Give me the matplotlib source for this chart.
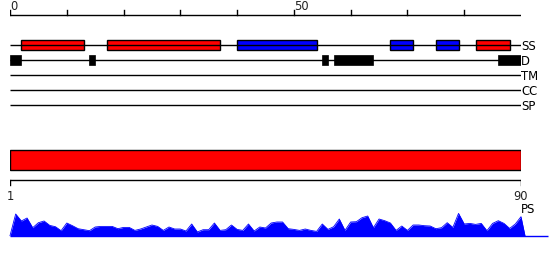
import matplotlib
matplotlib.use("Agg")
import matplotlib.pyplot as plt

# ---- data ----
seq_len = 90
ruler_ticks = [0, 10, 20, 30, 40, 50, 60, 70, 80]
ruler_labels = {0: "0", 50: "50"}

ss_starts = [2, 17, 40, 67, 75, 82]
ss_ends = [13, 37, 54, 71, 79, 88]
ss_types = ["H", "H", "E", "E", "E", "H"]

d_starts = [0, 14, 55, 57, 86]
d_ends = [2, 15, 56, 64, 90]

track_names = ["SS", "D", "TM", "CC", "SP"]

domain_start = 0
domain_end = 90
domain_labels = ["1", "90"]

ps_values = [21.7, 14.7, 17.7, 8, 13, 14.7, 10.3, 9, 5, 12.7,
             10, 7, 6, 5, 8.7, 9.3, 9.3, 9.3, 7, 8.3,
             8.3, 5.3, 6.7, 8.7, 10.7, 9.3, 5.3, 8.7, 6.7, 6.7,
             4.7, 11.7, 3.7, 6, 6, 12.7, 5.3, 6, 10.7, 6.3,
             5.3, 11.7, 4.7, 8.7, 7.7, 12.7, 13.7, 13.7, 7, 6.3,
             5.3, 6.7, 5.3, 4.3, 11.7, 6.3, 9, 16.7, 5.3, 13.7,
             14, 18, 19.7, 8, 16.7, 15, 12.7, 5.3, 9.7, 5.3,
             10.7, 10.7, 10, 9.7, 7, 8, 13, 8.3, 22.3, 11.7,
             12.3, 11.3, 12.3, 5, 12.3, 15, 12.3, 7.3, 11.7, 19]

# ---- layout ----
W, H = 550, 260
fig = plt.figure(figsize=(W / 100, H / 100), dpi=100)
x0, x1 = 10, 521
left = x0 / W
width = (x1 - x0) / W

ss_color = {"H": "#ff0000", "E": "#0000ff"}
lw = 1.0
label_font = dict(family=["Liberation Sans Narrow", "DejaVu Sans"], fontsize=8.4, color="#000000")
num_font = dict(family=["DejaVu Sans"], fontsize=8.3, color="#222222")

# main axes: y in pixel rows (0..200), inverted
ax = fig.add_axes([left, (H - 200) / H, width, 200 / H])
ax.set_xlim(0, seq_len)
ax.set_ylim(200, 0)
ax.axis("off")

# top ruler
ruler_y = 15
ax.plot([0, seq_len], [ruler_y, ruler_y], color="black", lw=lw, solid_capstyle="butt")
for t in ruler_ticks:
    ax.plot([t, t], [ruler_y - 5, ruler_y], color="black", lw=lw)
    if t in ruler_labels:
        ax.text(t, ruler_y - 5.5, ruler_labels[t], ha="left", va="baseline", **num_font)

# tracks
track_y = [45, 60, 75, 90, 105]
for name, y in zip(track_names, track_y):
    ax.plot([0, seq_len], [y, y], color="black", lw=lw, solid_capstyle="butt")
    ax.text(seq_len + 0.05, y + 5, name, ha="left", va="baseline", **label_font)

# SS boxes
ss_y = track_y[0]
for s, e, t in zip(ss_starts, ss_ends, ss_types):
    ax.bar(s, 10, width=e - s, bottom=ss_y - 5, align="edge",
           color=ss_color[t], edgecolor="black", linewidth=lw)

# disorder boxes
d_y = track_y[1]
for s, e in zip(d_starts, d_ends):
    ax.bar(s, 10.5, width=e - s, bottom=d_y - 5.2, align="edge",
           color="black", edgecolor="black", linewidth=lw * 0.5)

# domain bar
ax.bar(domain_start, 20, width=domain_end - domain_start, bottom=150, align="edge",
       color="#ff0000", edgecolor="black", linewidth=lw)

# second ruler
r2 = 180
ax.plot([domain_start, domain_end], [r2, r2], color="black", lw=lw, solid_capstyle="butt")
for pos, lab in zip([domain_start, domain_end], domain_labels):
    ax.plot([pos, pos], [r2, r2 + 5], color="black", lw=lw)
    ax.text(pos, r2 + 20, lab, ha="center", va="baseline", **num_font)

# PS profile axes
base_px = 235.7
ph = 36
axp = fig.add_axes([left, (H - base_px) / H, width, ph / H])
axp.set_xlim(0, seq_len)
axp.set_ylim(0, ph)
axp.axis("off")
xs = [0] + list(range(1, len(ps_values) + 1)) + [seq_len + 0.7]
ys = [0] + ps_values + [0]
axp.fill_between(xs, ys, 0, color="#0000ff", lw=0, clip_on=False)
axp.plot(xs, ys, color="#0000ff", lw=0.6, clip_on=False)
axp.plot([0, 94.8], [0, 0], color="#0000ff", lw=1.0, clip_on=False, solid_capstyle="butt")
axp.text(seq_len + 0.05, 22.7, "PS", ha="left", va="baseline", **label_font)

fig.savefig("out.png", dpi=100)
